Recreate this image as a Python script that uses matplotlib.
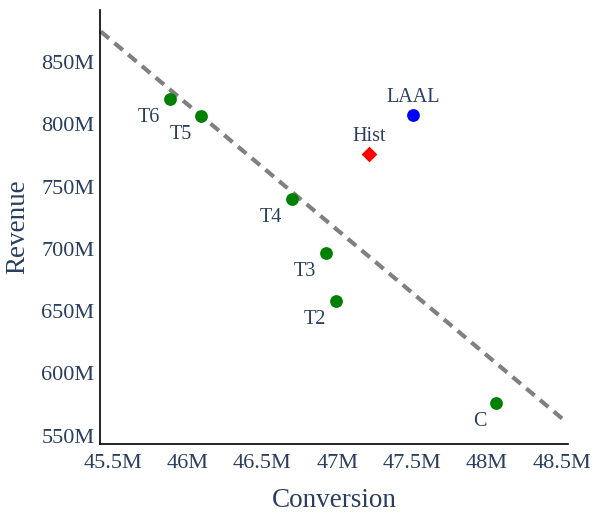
import matplotlib
matplotlib.use("Agg")
import matplotlib.pyplot as plt
from matplotlib.ticker import FuncFormatter

# Data (values in millions)
green_names = ["T6", "T5", "T4", "T3", "T2", "C"]
green_conv = [45.883, 46.092, 46.697, 46.926, 46.99, 48.062]
green_rev = [820.0, 806.8, 739.9, 696.5, 658.0, 576.0]

laal_conv = [47.505]
laal_rev = [807.4]
hist_conv = [47.215]
hist_rev = [775.8]

trend_x = [45.42, 48.53]
trend_y = [874.5, 561.0]

x_ticks = [45.5, 46.0, 46.5, 47.0, 47.5, 48.0, 48.5]
y_ticks = [550, 600, 650, 700, 750, 800, 850]

TXT = "#2a3f5f"
plt.rcParams['font.family'] = ['Liberation Serif', 'DejaVu Serif']

fig = plt.figure(figsize=(6, 5.2), dpi=100)
ax = fig.add_axes([100/600, 1-444/520, 468/600, 434/520])

ax.plot(trend_x, trend_y, color="#808080", lw=3, dashes=[2.6, 1.7], zorder=1)
ax.scatter(green_conv, green_rev, s=9.2**2, color="green", zorder=3, linewidths=0)
ax.scatter(laal_conv, laal_rev, s=9.2**2, color="blue", zorder=3, linewidths=0)
ax.scatter(hist_conv, hist_rev, s=8.0**2, color="red", marker="D", zorder=3, linewidths=0)

for n, x, y in zip(green_names, green_conv, green_rev):
    ax.annotate(n, (x, y), xytext=(-7, -6.5), textcoords="offset points",
                ha="right", va="top", fontsize=14.5, color=TXT)
ax.annotate("LAAL", (laal_conv[0], laal_rev[0]), xytext=(0, 6), textcoords="offset points",
            ha="center", va="bottom", fontsize=14.5, color=TXT)
ax.annotate("Hist", (hist_conv[0], hist_rev[0]), xytext=(0, 6), textcoords="offset points",
            ha="center", va="bottom", fontsize=14.5, color=TXT)

ax.set_xlim(45.415, 48.542)
ax.set_ylim(543.3, 891.8)
ax.set_xticks(x_ticks)
ax.set_yticks(y_ticks)
ax.xaxis.set_major_formatter(FuncFormatter(lambda v, p: f"{v:g}M"))
ax.yaxis.set_major_formatter(FuncFormatter(lambda v, p: f"{v:g}M"))
ax.tick_params(axis="both", length=0, labelsize=16, colors=TXT)
ax.tick_params(axis="x", pad=7)
ax.tick_params(axis="y", pad=4)
for s in ["top", "right"]:
    ax.spines[s].set_visible(False)
for s in ["left", "bottom"]:
    ax.spines[s].set_color("black")
    ax.spines[s].set_linewidth(1.2)

ax.set_xlabel("Conversion", fontsize=19.5, color=TXT, labelpad=11)
ax.set_ylabel("Revenue", fontsize=19.5, color=TXT, labelpad=8)

fig.savefig("out.png", dpi=100)
